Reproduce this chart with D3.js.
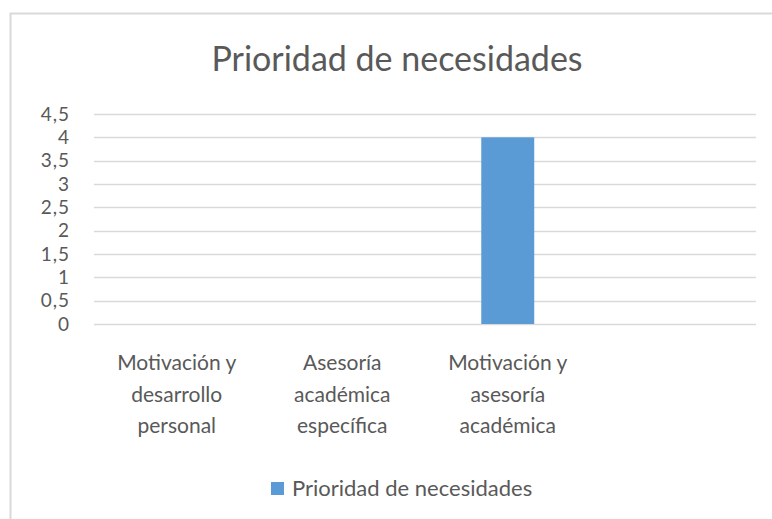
<!DOCTYPE html>
<html>
<head>
<meta charset="utf-8">
<script src="https://cdn.jsdelivr.net/npm/d3@7"></script>
<style>
  body { margin: 0; background: #fff; }
  svg { display: block; font-family: Lato, "Open Sans", sans-serif; }
</style>
</head>
<body>
<svg id="chart" width="772" height="519"></svg>
<script>
const title = "Prioridad de necesidades"
const seriesName = "Prioridad de necesidades"
const categories = [
    ["Motivación y", "desarrollo", "personal"],
    ["Asesoría", "académica", "específica"],
    ["Motivación y", "asesoría", "académica"],
    [""]
]
const values = [0, 0, 4, null]
const yTicks = [0, 0.5, 1, 1.5, 2, 2.5, 3, 3.5, 4, 4.5]

const textColor = "#595959"
const gridColor = "#d9d9d9"
const barColor = "#5b9bd5"

const svg = d3.select("#chart")
const width = +svg.attr("width")
const height = +svg.attr("height")

const margin = { top: 114, right: 16, bottom: 195, left: 94 }

// chart area border (runs off the right and bottom edge like the screenshot)
svg.append("rect")
    .attr("x", 10.5).attr("y", 13.5)
    .attr("width", width + 20).attr("height", height + 20)
    .attr("fill", "none")
    .attr("stroke", gridColor)
    .attr("stroke-width", 2)

svg.append("text")
    .attr("x", 397).attr("y", 71)
    .attr("text-anchor", "middle")
    .attr("font-size", 34)
    .attr("fill", textColor)
    .text(title)

const x = d3.scaleBand()
    .domain(d3.range(categories.length))
    .range([margin.left, width - margin.right])
    .paddingInner(0.68)
    .paddingOuter(0.34)

const y = d3.scaleLinear()
    .domain([0, 4.5])
    .range([height - margin.bottom, margin.top])

const fmt = d => String(d).replace(".", ",")

// gridlines
svg.append("g")
    .selectAll("line")
    .data(yTicks)
    .enter().append("line")
    .attr("x1", margin.left)
    .attr("x2", width - margin.right)
    .attr("y1", d => Math.round(y(d)) + 0.5)
    .attr("y2", d => Math.round(y(d)) + 0.5)
    .attr("stroke", gridColor)
    .attr("stroke-width", 1.5)

// y axis labels
const yAxis = svg.append("g")
    .attr("transform", "translate(" + margin.left + ",0)")
    .call(d3.axisLeft(y).tickValues(yTicks).tickFormat(fmt).tickSize(0).tickPadding(24))
yAxis.select(".domain").remove()
yAxis.selectAll("text")
    .attr("font-family", "Lato, sans-serif")
    .attr("font-size", 19)
    .attr("letter-spacing", 1)
    .attr("fill", textColor)

// bars
svg.append("g")
    .selectAll("rect")
    .data(values.map((v, i) => ({ i: i, v: v })).filter(d => d.v))
    .enter().append("rect")
    .attr("x", d => x(d.i))
    .attr("width", x.bandwidth())
    .attr("y", d => y(d.v))
    .attr("height", d => y(0) - y(d.v))
    .attr("fill", barColor)

// category labels (multi-line)
const catG = svg.append("g")
    .selectAll("text")
    .data(categories)
    .enter().append("text")
    .attr("text-anchor", "middle")
    .attr("font-size", 21)
    .attr("fill", textColor)
    .attr("transform", (d, i) => "translate(" + (x(i) + x.bandwidth() / 2) + ",370)")
catG.selectAll("tspan")
    .data(d => d)
    .enter().append("tspan")
    .attr("x", 0)
    .attr("y", (d, i) => i * 31.5)
    .text(d => d)

// legend
const legend = svg.append("g").attr("transform", "translate(271,482)")
legend.append("rect")
    .attr("width", 13).attr("height", 13)
    .attr("fill", barColor)
legend.append("text")
    .attr("x", 21).attr("y", 14)
    .attr("font-size", 22)
    .attr("fill", textColor)
    .text(seriesName)
</script>
</body>
</html>
